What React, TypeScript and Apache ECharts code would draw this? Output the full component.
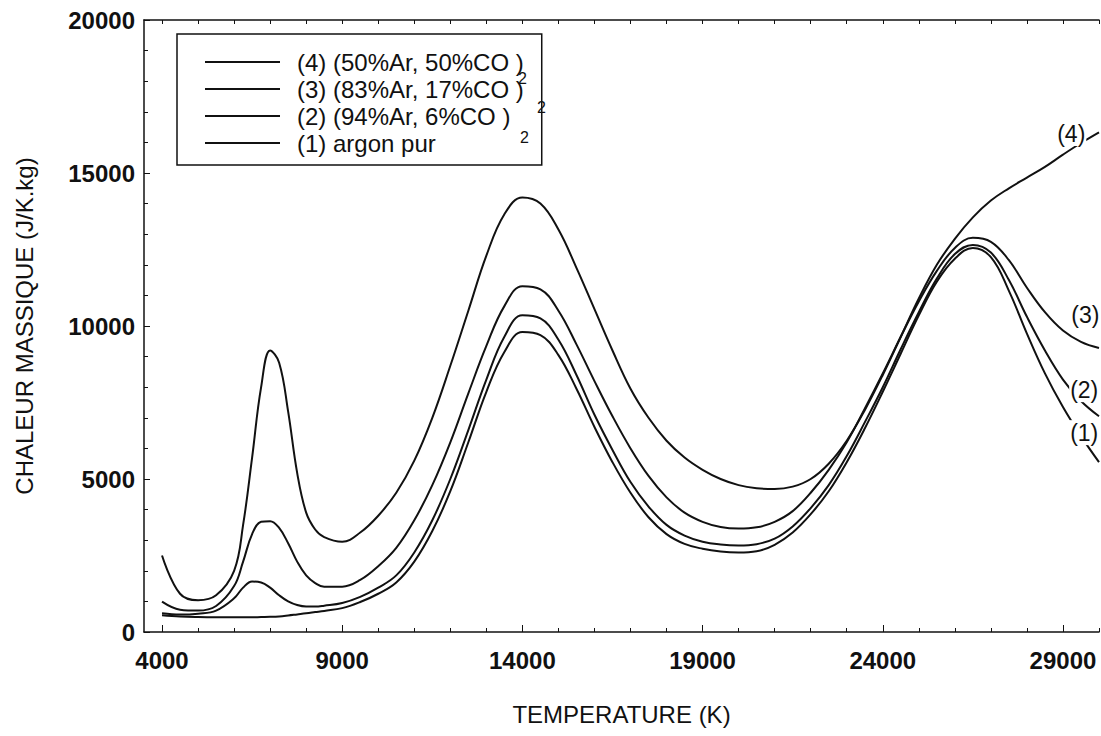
import React, { useEffect, useRef } from "react";
import * as echarts from "echarts";

// Temperature grid (K)
const temps = [4000, 4500, 5000, 5500, 6000, 6250, 6500, 6750, 7000, 7250, 7500, 7750, 8000, 8250, 8500, 9000, 9500, 10000, 10500, 11000, 11500, 12000, 12500, 13000, 13500, 14000, 14500, 15000, 15500, 16000, 16500, 17000, 17500, 18000, 18500, 19000, 19500, 20000, 20500, 21000, 21500, 22000, 22500, 23000, 23500, 24000, 24500, 25000, 25500, 26000, 26500, 27000, 27500, 28000, 28500, 29000, 29500, 30000];

// (1) argon pur
const argonPur = [550, 510, 490, 480, 478, 478, 480, 488, 495, 510, 540, 575, 610, 650, 690, 780, 980, 1250, 1620, 2300, 3300, 4600, 6200, 7850, 9150, 9800, 9700, 9050, 7950, 6700, 5550, 4550, 3750, 3200, 2880, 2720, 2630, 2600, 2640, 2850, 3250, 3850, 4600, 5550, 6650, 7850, 9100, 10350, 11450, 12200, 12550, 12250, 11150, 9750, 8450, 7350, 6400, 5550];
// (2) 94%Ar, 6%CO2
const ar94 = [610, 570, 600, 700, 1100, 1450, 1650, 1620, 1450, 1200, 1000, 880, 830, 830, 860, 950, 1150, 1450, 1850, 2600, 3650, 5000, 6600, 8250, 9650, 10350, 10250, 9550, 8400, 7100, 5950, 4900, 4100, 3500, 3150, 2950, 2860, 2830, 2870, 3050, 3450, 4050, 4800, 5750, 6850, 8000, 9250, 10450, 11550, 12350, 12650, 12400, 11500, 10300, 9200, 8250, 7550, 7050];
// (3) 83%Ar, 17%CO2
const ar83 = [990, 730, 700, 850, 1500, 2300, 3200, 3600, 3620, 3400, 2900, 2300, 1850, 1600, 1480, 1480, 1700, 2150, 2750, 3650, 4800, 6200, 7800, 9350, 10650, 11300, 11200, 10500, 9400, 8200, 7050, 6000, 5100, 4400, 3900, 3600, 3430, 3380, 3420, 3600, 3950, 4550, 5300, 6200, 7300, 8450, 9650, 10800, 11800, 12550, 12880, 12750, 12150, 11250, 10450, 9850, 9480, 9280];
// (4) 50%Ar, 50%CO2
const ar50 = [2500, 1250, 1040, 1200, 2000, 3500, 5700, 8000, 9200, 8800, 7200, 5200, 3900, 3350, 3100, 2950, 3250, 3800, 4550, 5600, 7000, 8700, 10500, 12300, 13650, 14200, 14000, 13150, 11900, 10550, 9200, 7950, 7000, 6250, 5700, 5300, 5000, 4800, 4700, 4670, 4750, 5000, 5500, 6250, 7250, 8400, 9650, 10900, 12000, 12850, 13550, 14100, 14500, 14850, 15200, 15600, 15980, 16330];

const seriesNames = [
  "(4) (50%Ar, 50%CO )",
  "(3) (83%Ar, 17%CO )",
  "(2) (94%Ar, 6%CO )",
  "(1) argon pur",
];
const curveTags = ["(4)", "(3)", "(2)", "(1)"];
const tagAt = [
  [29230, 16290],
  [29620, 10360],
  [29590, 7920],
  [29590, 6515],
];

const xLabelValues = [4000, 9000, 14000, 19000, 24000, 29000];
const xMinorValues = [4000, 5000, 6000, 7000, 8000, 9000, 10000, 11000, 12000, 13000, 14000, 15000, 16000, 17000, 18000, 19000, 20000, 21000, 22000, 23000, 24000, 25000, 26000, 27000, 28000, 29000, 30000];

const FONT = "'Liberation Sans', Arial, sans-serif";

export default function App() {
  const ref = useRef<HTMLDivElement>(null);
  useEffect(() => {
    if (!ref.current) return;
    const chart = echarts.init(ref.current, null, { renderer: "svg" });
    const dataSets = [ar50, ar83, ar94, argonPur];
    const series = dataSets.map((vals, i) => ({
      name: seriesNames[i],
      type: "line",
      xAxisIndex: 0,
      yAxisIndex: 0,
      data: temps.map((t, j) => [t, vals[j]]),
      smooth: 0.4,
      showSymbol: false,
      symbol: "none",
      lineStyle: { color: "#111", width: 2 },
      itemStyle: { color: "#111" },
      z: 3,
      markPoint: {
        symbol: "rect",
        symbolSize: 1,
        itemStyle: { color: "rgba(0,0,0,0)" },
        label: {
          show: true,
          position: "inside",
          formatter: curveTags[i],
          color: "#111",
          fontFamily: FONT,
          fontSize: 23,
          backgroundColor: "#fff",
          padding: [1, 1],
        },
        data: [{ coord: tagAt[i] }],
      },
    }));
    chart.setOption({
      animation: false,
      backgroundColor: "#fff",
      textStyle: { fontFamily: FONT },
      grid: { left: 144, right: 2, top: 20, bottom: 104, containLabel: false },
      legend: {
        orient: "vertical",
        left: 177,
        top: 34,
        padding: [16, 18, 10, 28],
        itemGap: 3,
        itemWidth: 75,
        itemHeight: 2,
        icon: "rect",
        borderColor: "#111",
        borderWidth: 1.5,
        textStyle: { fontFamily: FONT, fontSize: 24, color: "#111", padding: [0, 0, 0, 12] },
        data: seriesNames.map((n) => ({ name: n, icon: "rect", itemStyle: { color: "#111" } })),
      },
      xAxis: [
        {
          type: "value",
          min: 3500,
          max: 30000,
          name: "TEMPERATURE (K)",
          nameLocation: "middle",
          nameGap: 70,
          nameTextStyle: { fontFamily: FONT, fontSize: 24, color: "#111" },
          axisLine: { show: true, onZero: false, lineStyle: { color: "#111", width: 1.5 } },
          axisTick: { show: true, inside: true, length: 7, customValues: xLabelValues, lineStyle: { color: "#111" } },
          axisLabel: {
            customValues: xLabelValues,
            fontFamily: FONT,
            fontSize: 24,
            fontWeight: "bold",
            color: "#111",
            margin: 16,
            formatter: (v: number) => String(v),
          },
          splitLine: { show: false },
        },
        {
          type: "value",
          min: 3500,
          max: 30000,
          position: "bottom",
          axisLine: { show: false },
          axisTick: { show: true, inside: true, length: 4, customValues: xMinorValues, lineStyle: { color: "#111" } },
          axisLabel: { show: false },
          splitLine: { show: false },
        },
        {
          type: "value",
          min: 3500,
          max: 30000,
          position: "top",
          axisLine: { show: true, onZero: false, lineStyle: { color: "#111", width: 1.5 } },
          axisTick: { show: true, inside: true, length: 4, customValues: xMinorValues, lineStyle: { color: "#111" } },
          axisLabel: { show: false },
          splitLine: { show: false },
        },
      ],
      yAxis: [
        {
          type: "value",
          min: 0,
          max: 20000,
          interval: 5000,
          name: "CHALEUR MASSIQUE (J/K.kg)",
          nameLocation: "middle",
          nameGap: 108,
          nameTextStyle: { fontFamily: FONT, fontSize: 24, color: "#111" },
          axisLine: { show: true, onZero: false, lineStyle: { color: "#111", width: 1.5 } },
          axisTick: { show: true, inside: true, length: 6, lineStyle: { color: "#111" } },
          minorTick: { show: true, splitNumber: 5, length: 4, lineStyle: { color: "#111" } },
          axisLabel: {
            fontFamily: FONT,
            fontSize: 24,
            fontWeight: "bold",
            color: "#111",
            margin: 9,
            formatter: (v: number) => String(v),
          },
          splitLine: { show: false },
        },
      ],
      graphic: [
        { type: "text", x: 518, y: 70, style: { text: "2", fontFamily: FONT, fontSize: 16, fill: "#111" } },
        { type: "text", x: 537, y: 99, style: { text: "2", fontFamily: FONT, fontSize: 16, fill: "#111" } },
        { type: "text", x: 520, y: 129, style: { text: "2", fontFamily: FONT, fontSize: 16, fill: "#111" } },
      ],
      series,
    });
    return () => chart.dispose();
  }, []);
  return <div ref={ref} style={{ width: 1101, height: 736, position: "absolute", left: 0, top: 0 }} />;
}
